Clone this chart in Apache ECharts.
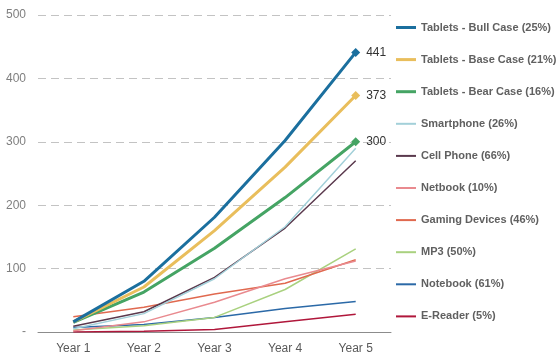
<!DOCTYPE html>
<html><head><meta charset="utf-8">
<script src="https://cdn.jsdelivr.net/npm/echarts@6/dist/echarts.min.js"></script>
<style>html,body{margin:0;padding:0;background:#fff}#c{width:559px;height:361px}</style>
</head><body><div id="c"></div>
<script>
var categories = ['Year 1','Year 2','Year 3','Year 4','Year 5'];
var yTicks = [0,100,200,300,400,500];
var seriesNames = ['Tablets - Bull Case (25%)','Tablets - Base Case (21%)','Tablets - Bear Case (16%)','Smartphone (26%)','Cell Phone (66%)','Netbook (10%)','Gaming Devices (46%)','MP3 (50%)','Notebook (61%)','E-Reader (5%)'];
var bull = [16, 80, 181, 302, 441];
var base = [16, 71, 160, 260, 373];
var bear = [15, 63, 132, 212, 300];
var smartphone = [5, 29, 84, 166, 290];
var cellPhone = [9, 32, 86, 164, 270];
var netbook = [2, 16, 47, 84, 112];
var gaming = [24, 39, 60, 77, 114];
var mp3 = [3, 10, 23, 67, 131];
var notebook = [7, 12, 23, 37, 48];
var eReader = [0, 1, 4, 16, 28];
var allData = [bull, base, bear, smartphone, cellPhone, netbook, gaming, mp3, notebook, eReader];
var colors = ['#1b6f9e','#e9be5c','#45a464','#a3d0d9','#5a394d','#e98a8f','#e0694f','#a9d17f','#2b69a7','#b0173b'];
var widths = [3,3,3,1.5,1.5,1.5,1.5,1.5,1.5,1.5];
var endLabeled = [true,true,true,false,false,false,false,false,false,false];

var chart = echarts.init(document.getElementById('c'));
var series = allData.map(function(d,i){
  var s = {
    name: seriesNames[i], type:'line', data: d, symbol:'none', smooth:false,
    color: colors[i],
    lineStyle:{width:widths[i], color:colors[i]},
    z: 20 - i
  };
  if (endLabeled[i]) {
    s.markPoint = {
      symbol:'diamond', symbolSize:9, itemStyle:{color:colors[i]},
      label:{show:true, position:'right', distance:6, color:'#333', fontSize:12, fontFamily:'Arial, Liberation Sans', formatter:function(p){return p.value;}},
      data:[{coord:[categories[4], d[4]], value:d[4]}]
    };
  }
  return s;
});
var legendData = seriesNames.map(function(n,i){
  return {name:n, icon: widths[i] > 2 ? 'path://M0,0H20V3H0Z' : 'path://M0,0H20V2H0Z', itemStyle:{color:colors[i]}};
});
chart.setOption({
  animation:false,
  grid:{left:38, right:168, top:15, bottom:29},
  legend:{
    orient:'vertical', left:396, top:22, padding:0, itemWidth:20, itemHeight:14, itemGap:21.1,
    textStyle:{color:'#606060', fontSize:11, fontWeight:'bold', fontFamily:'Arial, Liberation Sans'},
    data: legendData
  },
  xAxis:{
    type:'category', data:categories, boundaryGap:true,
    axisLine:{lineStyle:{color:'#8c8c8c', width:1}},
    axisTick:{show:false},
    axisLabel:{color:'#595959', fontSize:12, margin:11, fontFamily:'Arial, Liberation Sans'}
  },
  yAxis:{
    type:'value', min:yTicks[0], max:yTicks[yTicks.length-1], interval:100,
    axisLine:{show:false}, axisTick:{show:false},
    axisLabel:{color:'#7f7f7f', fontSize:12, margin:12, fontFamily:'Arial, Liberation Sans', formatter:function(v){return v===0?'-':String(v);}},
    splitLine:{lineStyle:{color:'#c3c3c3', type:[8,5], width:1}}
  },
  series: series
});
</script></body></html>
